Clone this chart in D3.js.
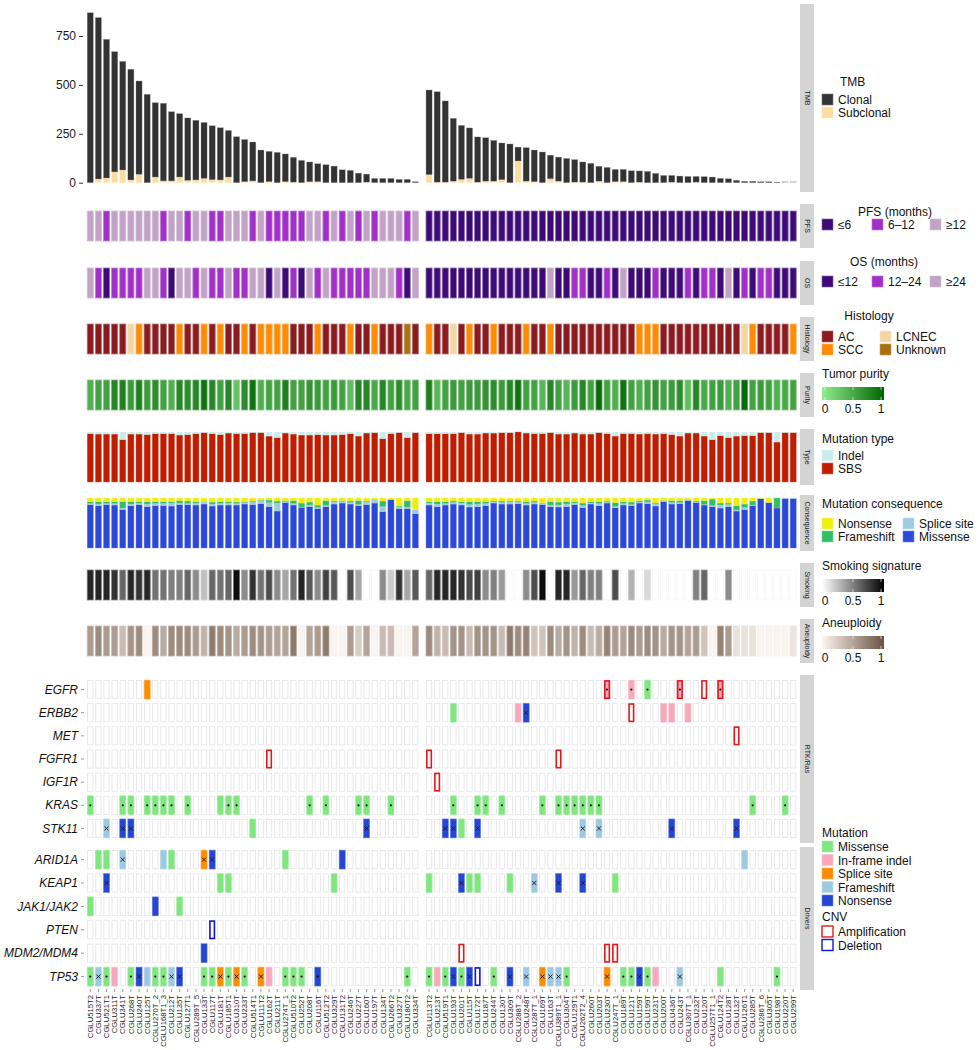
<!DOCTYPE html>
<html>
<head>
<meta charset="utf-8">
<script src="https://cdn.jsdelivr.net/npm/d3@7"></script>
<style>
body { margin: 0; background: #fff; }
text { font-family: "Liberation Sans", Arial, Helvetica, sans-serif; }
</style>
</head>
<body>
<div id="chart"></div>
<script>
// ---- samples (two groups) ----
const leftSamples = ['CGLU515T2','CGLU337T','CGLU521T1','CGLU311T','CGLU341T','CGLU268T','CGLU240T','CGLU125T','CGLU270T_2','CGLU168T1_3','CGLU212T','CGLU135T','CGLU127T1','CGLU289T_5','CGLU133T','CGLU117T','CGLU181T','CGLU185T1','CGLU310T','CGLU233T','CGLU514T1','CGLU111T2','CGLU162T','CGLU211T','CGLU274T_1','CGLU510T2','CGLU252T','CGLU208T','CGLU116T','CGLU512T2','CGLU329T','CGLU131T2','CGLU246T','CGLU227T','CGLU160T','CGLU197T','CGLU134T','CGLU266T2','CGLU327T','CGLU180T2','CGLU334T']
const rightSamples = ['CGLU113T2','CGLU213T','CGLU519T1','CGLU193T','CGLU201T','CGLU115T','CGLU172T','CGLU187T','CGLU244T','CGLU130T','CGLU309T','CGLU288T_2','CGLU248T','CGLU287T_1','CGLU169T','CGLU163T','CGLU389T1_1','CGLU304T','CGLU129T1','CGLU262T2_4','CGLU260T','CGLU203T','CGLU230T','CGLU247T_1','CGLU189T','CGLU121T','CGLU159T','CGLU199T','CGLU231T','CGLU200T','CGLU436T','CGLU243T','CGLU307T_1','CGLU232T','CGLU120T','CGLU257T1_1','CGLU124T2','CGLU128T','CGLU132T','CGLU126T1','CGLU285T','CGLU286T_6','CGLU305T','CGLU198T','CGLU220T','CGLU299T']

// ---- per-sample values, left group then right group ----
const tmbClonal = [869,825,709,615,555,566,477,452,380,397,354,324,319,305,286,276,267,238,235,216,199,167,155,155,142,127,114,101,92,92,85,66,63,49,41,22,22,22,17,17,5,
  433,462,415,321,276,258,231,222,208,188,198,71,171,162,157,121,123,124,115,103,99,76,78,63,63,61,57,58,48,37,34,34,32,29,31,29,22,20,12,7,7,5,5,3,0,0]
const tmbSubclonal = [0,19,24,55,65,14,43,0,29,9,9,29,12,14,22,15,14,29,0,5,9,0,5,0,5,3,0,5,5,0,0,0,0,0,3,0,0,0,0,0,0,
  41,3,3,8,17,22,3,8,8,15,0,111,8,5,0,20,8,0,3,3,0,8,0,5,5,0,3,0,0,0,3,0,0,3,0,0,0,0,0,0,0,0,0,0,0,0]
const tmbTicks = [0, 250, 500, 750]

const pfsLevels = ['≤6', '6–12', '≥12']
const pfs = [2,2,1,2,2,2,2,2,2,1,2,2,1,2,2,1,1,2,2,2,1,2,1,1,1,1,1,2,2,1,2,1,2,1,2,1,2,2,2,1,2,
  0,0,0,0,0,0,0,0,0,0,0,0,0,0,0,0,0,0,0,0,0,0,0,0,0,0,0,0,0,0,0,0,0,0,0,0,0,0,0,0,0,0,0,0,0,0]
const osLevels = ['≤12', '12–24', '≥24']
const os = [2,1,0,1,1,1,1,2,2,1,0,2,2,1,2,1,1,2,1,1,2,2,0,2,0,1,0,2,1,2,1,1,1,1,1,2,2,2,1,0,2,
  0,0,0,0,0,0,0,0,0,0,0,0,0,0,0,2,0,0,1,1,0,0,1,0,2,0,0,0,1,0,0,0,1,0,1,1,0,2,0,1,0,1,1,0,0,0]
const histLevels = ['AC', 'SCC', 'LCNEC', 'Unknown']
const histology = [0,0,0,0,0,2,1,0,0,0,0,1,0,0,1,0,1,0,0,1,0,1,1,1,1,0,0,0,1,0,0,0,1,0,0,1,0,0,0,3,0,
  1,0,0,2,0,1,0,0,1,0,0,0,1,0,0,1,0,0,0,0,0,0,0,0,0,0,1,1,1,0,0,0,0,0,0,0,0,0,0,2,1,0,0,0,0,1]
const purity = [.45,.55,.55,.75,.8,.6,.8,.6,.7,.55,.45,.75,.7,.75,.9,.75,.55,.75,.3,.7,.9,.45,.55,.55,.8,.55,.55,.65,.6,.55,.6,.55,.35,.75,.75,.5,.75,.55,.7,.5,.55,
  .8,.4,.55,.6,.55,.6,.6,.65,.7,.6,.75,.9,.55,.55,.4,.75,.55,.4,.6,.75,.55,.95,.55,.45,.9,.55,.45,.55,.65,.55,.6,.7,.35,.75,.5,.55,.6,.45,.55,.95,.55,.6,.55,.45,.5,.55]
// share of SBS among mutations (Indel = the rest)
const sbsShare = [.97,.96,.96,.96,.85,.96,.96,.95,.97,.97,.97,.94,.95,.97,.99,.97,.95,.98,.97,.97,.99,.99,.92,.89,.98,.96,.94,.94,.95,.94,.94,.95,.97,.92,.98,.99,.87,.97,.99,.89,.99,
  .97,.97,.97,.97,.99,.96,.96,.98,.98,.99,.99,1,.98,.97,.97,.99,.96,.96,.98,.96,.96,.99,.97,.92,.97,.97,.96,.97,.96,.97,.95,.92,.98,.98,.92,.85,.93,.89,.92,.93,.93,.99,.99,.80,.99,.99]
// mutation consequence shares
const missense = [.87,.85,.87,.86,.77,.85,.87,.83,.85,.85,.84,.87,.87,.86,.88,.84,.86,.86,.86,.88,.87,.89,.83,.74,.91,.86,.81,.83,.79,.83,.88,.90,.88,.85,.87,.90,.73,.97,.79,.79,.69,
  .86,.83,.86,.88,.86,.82,.83,.85,.90,.88,.88,.89,.86,.88,.87,.83,.82,.83,.87,.81,.88,.85,.90,.81,.86,.85,.90,.89,.84,.93,.88,.89,.95,.91,.86,.83,.80,.83,.74,.77,.85,.99,.91,.80,.99,.99]
const spliceSite = [.02,.03,.02,.03,.03,.03,.03,.05,.04,.04,.06,.03,.02,.04,.04,.04,.03,.04,.03,.03,.05,.06,.08,.16,.02,.03,0,.03,.02,.02,.04,.03,.03,.02,.05,.06,.10,.01,.03,.03,.08,
  .04,.05,.03,.03,.04,.05,.05,.04,.02,.03,.04,.03,.03,.03,.02,.03,.04,.05,.03,.04,.02,.04,.02,.02,.03,.02,.02,.03,.04,.01,.03,.02,.01,.01,.01,.02,.06,.04,.02,.04,.01,0,0,0,.01,.01]
const frameshift = [.04,.05,.04,.04,.13,.05,.03,.05,.04,.04,.03,.05,.05,.03,.01,.04,.04,.03,.03,.02,.02,.01,.05,.04,.02,.06,.09,.06,.05,.10,.02,.02,.03,.08,.02,.01,.11,0,.02,.13,0,
  .03,.05,.04,.03,.03,.06,.05,.04,.02,.03,.02,.02,.04,.03,.01,.07,.06,.05,.03,.05,.03,.04,.02,.08,.04,.05,.03,.04,.02,.01,.04,.04,.01,.02,.08,.13,.04,.03,.09,.07,.08,0,0,.20,0,0]
const nonsense = [.07,.07,.07,.07,.07,.07,.07,.07,.07,.07,.07,.05,.06,.07,.07,.08,.07,.07,.08,.07,.06,.04,.04,.06,.05,.05,.10,.08,.14,.05,.06,.05,.06,.05,.06,.03,.06,.02,.16,.05,.23,
  .07,.07,.07,.06,.07,.07,.07,.07,.06,.06,.06,.06,.07,.06,.10,.07,.08,.07,.07,.10,.07,.07,.06,.09,.07,.08,.05,.04,.10,.05,.05,.05,.03,.06,.05,.02,.10,.10,.15,.12,.06,.01,.09,0,0,0]
const smoking = [.85,.85,.85,.8,.6,.85,.8,.85,.55,.55,.5,.5,.6,.45,.25,.6,.55,.6,.95,.45,.8,.55,.7,.45,.35,.55,.85,.65,.45,.75,.65,0,.7,.35,0,0,.45,.2,.8,.35,.65,
  .6,.85,.85,.85,.8,.7,.75,.45,.5,.4,0,0,.45,.7,.95,0,.85,.85,.4,.6,.5,.5,0,.7,0,.3,0,.15,0,0,0,0,0,.5,.6,0,0,.45,0,0,0,0,0,0,0,0]
const aneuploidy = [.55,.65,.55,.55,.35,.6,.65,0,.65,.45,.65,.65,.65,.55,.4,.75,.65,.6,.45,.55,.65,.6,.55,.5,.5,.75,0,.5,.55,.75,0,0,.55,.25,.5,0,.35,.35,0,0,.5,
  .65,.4,.35,.6,.6,.35,.6,.6,.6,.35,.75,.65,.7,.3,.3,.65,.45,.6,.4,.65,.35,.45,.7,.55,.5,.65,.55,.65,.6,.45,.6,.6,.5,.55,.3,0,.7,.55,.12,.12,.12,0,0,0,0,.1]

// ---- genes ----
const rtkGenes = ['EGFR','ERBB2','MET','FGFR1','IGF1R','KRAS','STK11']
const driverGenes = ['ARID1A','KEAP1','JAK1/JAK2','PTEN','MDM2/MDM4','TP53']

// [gene, sample, mutation class, mark]
const mutations = [
  ['EGFR','CGLU125T','Splice site',''],
  ['KRAS','CGLU515T2','Missense','dot'],['KRAS','CGLU341T','Missense','dot'],['KRAS','CGLU268T','Missense','dot'],
  ['KRAS','CGLU125T','Missense','dot'],['KRAS','CGLU270T_2','Missense','dot'],['KRAS','CGLU168T1_3','Missense','dot'],
  ['KRAS','CGLU212T','Missense','dot'],['KRAS','CGLU127T1','Missense','dot'],['KRAS','CGLU181T','Missense',''],
  ['KRAS','CGLU185T1','Missense','dot'],['KRAS','CGLU310T','Missense','dot'],['KRAS','CGLU208T','Missense','dot'],
  ['KRAS','CGLU512T2','Missense','dot'],['KRAS','CGLU227T','Missense','dot'],['KRAS','CGLU160T','Missense','dot'],
  ['KRAS','CGLU266T2','Missense','dot'],
  ['STK11','CGLU521T1','Frameshift','x'],['STK11','CGLU341T','Nonsense','x'],['STK11','CGLU268T','Nonsense','x'],
  ['STK11','CGLU514T1','Missense',''],['STK11','CGLU160T','Nonsense','x'],
  ['ARID1A','CGLU337T','Missense',''],['ARID1A','CGLU521T1','Missense',''],['ARID1A','CGLU341T','Frameshift','x'],
  ['ARID1A','CGLU168T1_3','Frameshift',''],['ARID1A','CGLU212T','Missense',''],['ARID1A','CGLU133T','Splice site','x'],
  ['ARID1A','CGLU117T','Nonsense','x'],['ARID1A','CGLU274T_1','Missense',''],['ARID1A','CGLU131T2','Nonsense',''],
  ['KEAP1','CGLU521T1','Nonsense','x'],['KEAP1','CGLU181T','Missense',''],['KEAP1','CGLU185T1','Missense',''],
  ['KEAP1','CGLU329T','Missense',''],
  ['JAK1/JAK2','CGLU515T2','Missense',''],['JAK1/JAK2','CGLU270T_2','Nonsense',''],['JAK1/JAK2','CGLU135T','Missense',''],
  ['MDM2/MDM4','CGLU133T','Nonsense',''],
  ['TP53','CGLU515T2','Missense','dot'],['TP53','CGLU337T','Frameshift','x'],['TP53','CGLU521T1','Missense','dot'],
  ['TP53','CGLU311T','In-frame indel',''],['TP53','CGLU268T','Missense','dot'],['TP53','CGLU240T','Nonsense','x'],
  ['TP53','CGLU125T','Frameshift',''],['TP53','CGLU270T_2','Missense','dot'],['TP53','CGLU168T1_3','Missense','dot'],
  ['TP53','CGLU212T','Frameshift','x'],['TP53','CGLU135T','Nonsense','x'],['TP53','CGLU133T','Missense','dot'],
  ['TP53','CGLU117T','Missense','dot'],['TP53','CGLU181T','Splice site','x'],['TP53','CGLU185T1','Missense','dot'],
  ['TP53','CGLU310T','Splice site','x'],['TP53','CGLU233T','Missense','dot'],['TP53','CGLU111T2','Splice site','x'],
  ['TP53','CGLU162T','In-frame indel',''],['TP53','CGLU274T_1','Missense','dot'],['TP53','CGLU510T2','Missense','dot'],
  ['TP53','CGLU252T','Missense','dot'],['TP53','CGLU116T','Nonsense','dot'],['TP53','CGLU180T2','Missense','dot'],
  // right group
  ['EGFR','CGLU230T','In-frame indel','dot'],['EGFR','CGLU121T','In-frame indel','dot'],['EGFR','CGLU199T','Missense','dot'],
  ['EGFR','CGLU243T','In-frame indel','dot'],['EGFR','CGLU124T2','In-frame indel','dot'],
  ['ERBB2','CGLU193T','Missense',''],['ERBB2','CGLU288T_2','In-frame indel',''],['ERBB2','CGLU248T','Nonsense','x'],
  ['ERBB2','CGLU200T','In-frame indel',''],['ERBB2','CGLU436T','In-frame indel',''],['ERBB2','CGLU307T_1','In-frame indel',''],
  ['KRAS','CGLU193T','Missense','dot'],['KRAS','CGLU172T','Missense','dot'],['KRAS','CGLU187T','Missense','dot'],
  ['KRAS','CGLU130T','Missense','dot'],['KRAS','CGLU169T','Missense','dot'],['KRAS','CGLU389T1_1','Missense','dot'],
  ['KRAS','CGLU304T','Missense','dot'],['KRAS','CGLU129T1','Missense','dot'],['KRAS','CGLU262T2_4','Missense','dot'],
  ['KRAS','CGLU260T','Missense','dot'],['KRAS','CGLU203T','Missense','dot'],['KRAS','CGLU285T','Missense','dot'],
  ['KRAS','CGLU220T','Missense','dot'],
  ['STK11','CGLU519T1','Nonsense','x'],['STK11','CGLU193T','Nonsense','x'],['STK11','CGLU201T','Missense',''],
  ['STK11','CGLU172T','Nonsense','x'],['STK11','CGLU262T2_4','Frameshift','x'],['STK11','CGLU203T','Frameshift','x'],
  ['STK11','CGLU436T','Nonsense','x'],['STK11','CGLU132T','Nonsense','x'],
  ['ARID1A','CGLU126T1','Frameshift',''],
  ['KEAP1','CGLU113T2','Missense',''],['KEAP1','CGLU201T','Nonsense','x'],['KEAP1','CGLU115T','Missense',''],
  ['KEAP1','CGLU172T','Missense',''],['KEAP1','CGLU309T','Missense',''],['KEAP1','CGLU287T_1','Frameshift','x'],
  ['KEAP1','CGLU389T1_1','Nonsense','x'],['KEAP1','CGLU262T2_4','Nonsense','x'],['KEAP1','CGLU247T_1','Missense',''],
  ['TP53','CGLU113T2','Missense','dot'],['TP53','CGLU213T','In-frame indel',''],['TP53','CGLU519T1','Missense','dot'],
  ['TP53','CGLU193T','Nonsense','x'],['TP53','CGLU201T','Missense','dot'],['TP53','CGLU115T','Nonsense','x'],
  ['TP53','CGLU244T','Missense','dot'],['TP53','CGLU309T','Nonsense','x'],['TP53','CGLU248T','Frameshift','x'],
  ['TP53','CGLU169T','Splice site','x'],['TP53','CGLU163T','Frameshift','x'],['TP53','CGLU389T1_1','Frameshift','x'],
  ['TP53','CGLU304T','Missense','dot'],['TP53','CGLU230T','Splice site','x'],['TP53','CGLU189T','Missense','dot'],
  ['TP53','CGLU121T','Missense','dot'],['TP53','CGLU159T','Nonsense','x'],['TP53','CGLU199T','Missense','dot'],
  ['TP53','CGLU231T','In-frame indel',''],['TP53','CGLU243T','Frameshift','x'],['TP53','CGLU124T2','Missense',''],
  ['TP53','CGLU198T','Missense','dot']
]
// [gene, sample, CNV]
const cnvs = [
  ['FGFR1','CGLU162T','Amplification'],['PTEN','CGLU117T','Deletion'],
  ['EGFR','CGLU230T','Amplification'],['EGFR','CGLU243T','Amplification'],['EGFR','CGLU120T','Amplification'],
  ['EGFR','CGLU124T2','Amplification'],['ERBB2','CGLU121T','Amplification'],['MET','CGLU132T','Amplification'],
  ['FGFR1','CGLU113T2','Amplification'],['FGFR1','CGLU389T1_1','Amplification'],['IGF1R','CGLU213T','Amplification'],
  ['MDM2/MDM4','CGLU201T','Amplification'],['MDM2/MDM4','CGLU230T','Amplification'],['MDM2/MDM4','CGLU247T_1','Amplification'],
  ['TP53','CGLU172T','Deletion']
]

// ---- colours ----
const tmbColors = {Clonal: '#333333', Subclonal: '#fedc9f'}
const pfsColors = ['#3d0a78', '#a22fc9', '#c2a2c7']
const histColors = ['#8c1a1f', '#ff8c00', '#f5d6a2', '#a8700e']
const purityColor = d3.interpolateRgb('#90ee90', '#006400')
const typeColors = {SBS: '#c01d00', Indel: '#c9ecec'}
const conseqColors = {Missense: '#2c48d8', 'Splice site': '#9dcbe0', Frameshift: '#33bd66', Nonsense: '#eeee10'}
const smokingColor = d3.interpolateRgb('#ffffff', '#000000')
const aneuColor = d3.interpolateRgb('#fcf4ee', '#6a5242')
const mutColors = {Missense: '#80e680', 'In-frame indel': '#f7a8bc', 'Splice site': '#ff8c00', Frameshift: '#9ecae1', Nonsense: '#2446d2'}
const cnvColors = {Amplification: '#e3191c', Deletion: '#1414e0'}
const edge = c => d3.interpolateRgb(c, '#ffffff')(0.35)

const svg = d3.select('#chart').append('svg').attr('width', 979).attr('height', 1050)

const samples = leftSamples.concat(rightSamples)
const xL = d3.scaleBand().domain(leftSamples).range([86.2, 419.4]).paddingInner(0.25).paddingOuter(0.125)
const xR = d3.scaleBand().domain(rightSamples).range([425, 797.2]).paddingInner(0.25).paddingOuter(0.125)
const x = s => leftSamples.indexOf(s) >= 0 ? xL(s) : xR(s)
const bw = xL.bandwidth()

// ---- facet strips ----
const strips = [
  ['TMB', 4, 192], ['PFS', 204, 248], ['OS', 261, 305], ['Histology', 317, 361], ['Purity', 373, 417],
  ['Type', 429, 485], ['Consequence', 495, 551], ['Smoking', 563, 607], ['Aneuploidy', 619, 663],
  ['RTK/Ras', 675, 843], ['Drivers', 847, 990]
]
const sg = svg.append('g')
sg.selectAll('rect').data(strips).join('rect')
  .attr('x', 800).attr('width', 14).attr('y', d => d[1]).attr('height', d => d[2] - d[1]).attr('fill', '#d4d4d4')
sg.selectAll('text').data(strips).join('text')
  .attr('transform', d => `translate(${807},${(d[1] + d[2]) / 2}) rotate(90)`)
  .attr('text-anchor', 'middle').attr('dy', '0.35em').attr('font-size', 7).attr('fill', '#1a1a1a')
  .text(d => d[0])

// ---- TMB ----
const yT = d3.scaleLinear().domain([0, 750]).range([182.7, 36])
const tmb = samples.map((s, i) => ({s, clonal: tmbClonal[i], sub: tmbSubclonal[i]}))
const tg = svg.append('g')
tg.selectAll('rect.sub').data(tmb.filter(d => d.sub > 0)).join('rect').attr('class', 'sub')
  .attr('x', d => x(d.s)).attr('width', bw)
  .attr('y', d => yT(d.sub)).attr('height', d => yT(0) - yT(d.sub))
  .attr('fill', tmbColors.Subclonal).attr('stroke', '#fff3de').attr('stroke-width', 0.4)
tg.selectAll('rect.clonal').data(tmb).join('rect').attr('class', 'clonal')
  .attr('x', d => x(d.s)).attr('width', bw)
  .attr('y', d => d.clonal > 0 ? yT(d.sub + d.clonal) : yT(0) - 1.2)
  .attr('height', d => d.clonal > 0 ? yT(d.sub) - yT(d.sub + d.clonal) : 1.2)
  .attr('fill', d => d.clonal > 0 ? tmbColors.Clonal : '#dddddd').attr('stroke', '#9a9a9a').attr('stroke-width', 0.3)
const ax = svg.append('g').attr('transform', 'translate(83,0)')
  .call(d3.axisLeft(yT).tickValues(tmbTicks).tickSize(4).tickPadding(3))
ax.select('.domain').remove()
ax.selectAll('line').attr('stroke', '#333')
ax.selectAll('text').attr('font-size', 12).attr('fill', '#1a1a1a').style('font-family', '"Liberation Sans", Arial, sans-serif')

// ---- tile rows ----
const tileRows = [
  {y: 211, h: 30, color: i => pfsColors[pfs[i]]},
  {y: 268, h: 30, color: i => pfsColors[os[i]]},
  {y: 324, h: 30, color: i => histColors[histology[i]]},
  {y: 380, h: 30, color: i => purityColor(purity[i])},
  {y: 570, h: 30, color: i => smokingColor(smoking[i])},
  {y: 626, h: 30, color: i => aneuColor(aneuploidy[i])}
]
tileRows.forEach(row => {
  svg.append('g').selectAll('rect').data(samples).join('rect')
    .attr('x', d => x(d)).attr('width', bw).attr('y', row.y).attr('height', row.h)
    .attr('fill', (d, i) => row.color(i))
    .attr('stroke', (d, i) => d3.interpolateRgb(row.color(i), '#e8e8e8')(0.45)).attr('stroke-width', 0.8)
})

// ---- stacked share rows ----
function stackRow(y0, h, keys, rows, colors) {
  const y = d3.scaleLinear().domain([0, 1]).range([y0 + h, y0])
  const series = d3.stack().keys(keys)(rows)
  const g = svg.append('g')
  series.forEach(ser => {
    g.append('g').selectAll('rect').data(ser).join('rect')
      .attr('x', d => x(d.data.s)).attr('width', bw)
      .attr('y', d => y(d[1])).attr('height', d => Math.max(0, y(d[0]) - y(d[1])))
      .attr('fill', colors[ser.key]).attr('stroke', edge(colors[ser.key])).attr('stroke-width', 0.4)
  })
}
stackRow(432, 50, ['SBS', 'Indel'], samples.map((s, i) => ({s, SBS: sbsShare[i], Indel: 1 - sbsShare[i]})), typeColors)
stackRow(498, 50, ['Missense', 'Splice site', 'Frameshift', 'Nonsense'],
  samples.map((s, i) => {
    const t = missense[i] + spliceSite[i] + frameshift[i] + nonsense[i]
    return {s, Missense: missense[i] / t, 'Splice site': spliceSite[i] / t, Frameshift: frameshift[i] / t, Nonsense: nonsense[i] / t}
  }), conseqColors)

// ---- gene panels ----
const yRtk = d3.scaleBand().domain(rtkGenes).range([678, 840]).paddingInner(0.18).paddingOuter(0.09)
const yDrv = d3.scaleBand().domain(driverGenes).range([848, 988.4]).paddingInner(0.18).paddingOuter(0.09)
const yG = g => rtkGenes.indexOf(g) >= 0 ? yRtk(g) : yDrv(g)
const gh = yRtk.bandwidth()
const genes = rtkGenes.concat(driverGenes)

const gg = svg.append('g')
const cells = []
genes.forEach(g => samples.forEach(s => cells.push({g, s})))
gg.append('g').selectAll('rect').data(cells).join('rect')
  .attr('x', d => x(d.s) + 0.4).attr('width', bw - 0.8).attr('y', d => yG(d.g) + 0.4).attr('height', gh - 0.8)
  .attr('fill', '#fff').attr('stroke', '#e4e4e4').attr('stroke-width', 0.8)
gg.append('g').selectAll('rect').data(mutations).join('rect')
  .attr('x', d => x(d[1])).attr('width', bw).attr('y', d => yG(d[0])).attr('height', gh)
  .attr('fill', d => mutColors[d[2]]).attr('stroke', d => edge(mutColors[d[2]])).attr('stroke-width', 0.6)
gg.append('g').selectAll('rect').data(cnvs).join('rect')
  .attr('x', d => x(d[1]) + 0.8).attr('width', bw - 1.6).attr('y', d => yG(d[0]) + 0.8).attr('height', gh - 1.6)
  .attr('fill', 'none').attr('stroke', d => cnvColors[d[2]]).attr('stroke-width', 1.6)
gg.append('g').selectAll('circle').data(mutations.filter(d => d[3] === 'dot')).join('circle')
  .attr('cx', d => x(d[1]) + bw / 2).attr('cy', d => yG(d[0]) + gh / 2).attr('r', 1.1).attr('fill', '#111')
const crosses = mutations.filter(d => d[3] === 'x')
gg.append('g').selectAll('path').data(crosses).join('path')
  .attr('d', d => {
    const cx = x(d[1]) + bw / 2, cy = yG(d[0]) + gh / 2, r = 2.1
    return `M${cx - r},${cy - r}L${cx + r},${cy + r}M${cx - r},${cy + r}L${cx + r},${cy - r}`
  })
  .attr('stroke', '#1a1a2a').attr('stroke-width', 0.9)

// gene labels
const gl = svg.append('g')
gl.selectAll('text').data(genes).join('text')
  .attr('x', 78).attr('y', d => yG(d) + gh / 2).attr('dy', '0.35em')
  .attr('text-anchor', 'end').attr('font-size', 12).attr('font-style', 'italic').attr('fill', '#111')
  .text(d => d)
gl.selectAll('line').data(genes).join('line')
  .attr('x1', 81).attr('x2', 84).attr('y1', d => yG(d) + gh / 2).attr('y2', d => yG(d) + gh / 2)
  .attr('stroke', '#555').attr('stroke-width', 0.6)

// sample labels
const sl = svg.append('g')
sl.selectAll('line').data(samples).join('line')
  .attr('x1', d => x(d) + bw / 2).attr('x2', d => x(d) + bw / 2).attr('y1', 989).attr('y2', 992)
  .attr('stroke', '#555').attr('stroke-width', 0.6)
sl.selectAll('text').data(samples).join('text')
  .attr('transform', d => `translate(${x(d) + bw / 2},995) rotate(-90)`)
  .attr('text-anchor', 'end').attr('dy', '0.35em').attr('font-size', 7.7).attr('fill', '#1a1a1a')
  .text(d => d)

// ---- legends ----
const lg = svg.append('g').attr('font-size', 12).attr('fill', '#111')
const lx = 822
function title(t, y, anchor, xx) {
  lg.append('text').attr('x', xx || lx).attr('y', y).attr('text-anchor', anchor || 'start').text(t)
}
function item(label, color, xx, y, outline) {
  lg.append('rect').attr('x', xx).attr('y', y).attr('width', 11).attr('height', 11)
    .attr('fill', outline ? '#fff' : color).attr('stroke', outline ? color : edge(color)).attr('stroke-width', outline ? 1.4 : 0.6)
  lg.append('text').attr('x', xx + 16).attr('y', y + 10).text(label)
}
function gradient(id, interp, y, label) {
  const grad = svg.append('defs').append('linearGradient').attr('id', id)
  d3.range(0, 1.01, 0.1).forEach(t => grad.append('stop').attr('offset', t).attr('stop-color', interp(t)))
  title(label, y)
  lg.append('rect').attr('x', lx).attr('y', y + 9).attr('width', 62).attr('height', 13).attr('fill', `url(#${id})`)
  const gx = d3.scaleLinear().domain([0, 1]).range([lx + 3, lx + 59])
  ;[0, 0.5, 1].forEach(v => {
    lg.append('line').attr('x1', gx(v)).attr('x2', gx(v)).attr('y1', y + 9).attr('y2', y + 12).attr('stroke', '#fff').attr('stroke-width', 0.6)
    lg.append('line').attr('x1', gx(v)).attr('x2', gx(v)).attr('y1', y + 19).attr('y2', y + 22).attr('stroke', '#fff').attr('stroke-width', 0.6)
    lg.append('text').attr('x', gx(v)).attr('y', y + 35).attr('text-anchor', 'middle').text(v)
  })
}

title('TMB', 86, 'start', 840)
item('Clonal', tmbColors.Clonal, lx, 94)
item('Subclonal', tmbColors.Subclonal, lx, 107)

title('PFS (months)', 216, 'middle', 895)
;[lx, 872, 930].forEach((xx, i) => item(pfsLevels[i], pfsColors[i], xx, 219))
title('OS (months)', 266, 'middle', 884)
;[lx, 872, 930].forEach((xx, i) => item(osLevels[i], pfsColors[i], xx, 276))

title('Histology', 320, 'middle', 869)
item('AC', histColors[0], lx, 331)
item('SCC', histColors[1], lx, 344)
item('LCNEC', histColors[2], 880, 331)
item('Unknown', histColors[3], 880, 344)

gradient('gPurity', purityColor, 378, 'Tumor purity')

title('Mutation type', 443)
item('Indel', typeColors.Indel, lx, 450)
item('SBS', typeColors.SBS, lx, 463)

title('Mutation consequence', 508)
item('Nonsense', conseqColors.Nonsense, lx, 518)
item('Frameshift', conseqColors.Frameshift, lx, 531)
item('Splice site', conseqColors['Splice site'], 903, 518)
item('Missense', conseqColors.Missense, 903, 531)

gradient('gSmoking', smokingColor, 570, 'Smoking signature')
gradient('gAneu', aneuColor, 627, 'Aneuploidy')

title('Mutation', 837)
Object.keys(mutColors).forEach((k, i) => item(k, mutColors[k], lx, 841 + i * 13.5))
title('CNV', 921)
item('Amplification', cnvColors.Amplification, lx, 926, true)
item('Deletion', cnvColors.Deletion, lx, 939.5, true)
</script>
</body>
</html>
